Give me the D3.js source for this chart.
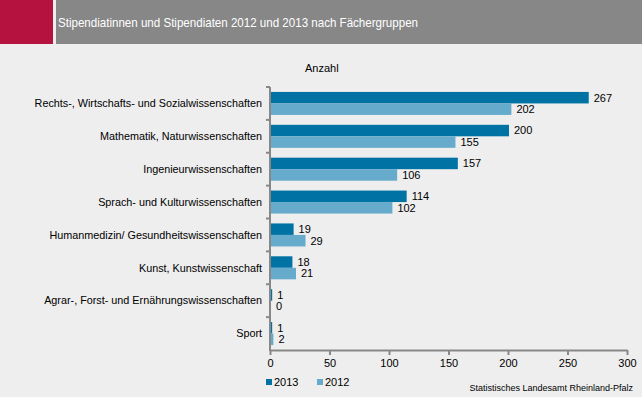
<!DOCTYPE html>
<html>
<head>
<meta charset="utf-8">
<script src="https://cdn.jsdelivr.net/npm/d3@7"></script>
<style>
  body { margin: 0; background: #eeeeee; }
  svg { display: block; font-family: "Liberation Sans", Arial, sans-serif; }
</style>
</head>
<body>
<div id="chart"></div>
<script>
const categories = [
  "Rechts-, Wirtschafts- und Sozialwissenschaften",
  "Mathematik, Naturwissenschaften",
  "Ingenieurwissenschaften",
  "Sprach- und Kulturwissenschaften",
  "Humanmedizin/ Gesundheitswissenschaften",
  "Kunst, Kunstwissenschaft",
  "Agrar-, Forst- und Ernährungswissenschaften",
  "Sport"
];
const values2013 = [267, 200, 157, 114, 19, 18, 1, 1];
const values2012 = [202, 155, 106, 102, 29, 21, 0, 2];
const seriesNames = ["2013", "2012"];
const xTicks = [0, 50, 100, 150, 200, 250, 300];

const width = 642, height = 397;
const colors = { "2013": "#0072a4", "2012": "#66abcb" };

const svg = d3.select("#chart").append("svg")
  .attr("width", width)
  .attr("height", height);

svg.append("rect").attr("width", width).attr("height", height).attr("fill", "#eeeeee");

// header band
svg.append("rect").attr("x", 0).attr("y", 0).attr("width", 53).attr("height", 44).attr("fill", "#b5123f");
svg.append("rect").attr("x", 56).attr("y", 0).attr("width", width - 56).attr("height", 44).attr("fill", "#878787");
svg.append("text")
  .attr("x", 58).attr("y", 27)
  .attr("fill", "#ffffff")
  .style("font-size", "13px")
  .attr("textLength", 360)
  .attr("lengthAdjust", "spacingAndGlyphs")
  .text("Stipendiatinnen und Stipendiaten 2012 und 2013 nach Fächergruppen");

const rows = categories.map((c, i) => ({ cat: c, v2013: values2013[i], v2012: values2012[i] }));

const x = d3.scaleLinear().domain([0, 300]).range([270, 627]);
const y = d3.scaleBand().domain(categories).range([87, 350]).paddingInner(0.3).paddingOuter(0.15);
const sub = d3.scaleBand().domain(seriesNames).range([0, y.bandwidth()]);

// bars
const g = svg.append("g");
const groups = g.selectAll("g.cat").data(rows).enter().append("g")
  .attr("transform", d => `translate(0,${y(d.cat)})`);

seriesNames.forEach(s => {
  const key = "v" + s;
  groups.append("rect")
    .attr("x", x(0) + 1)
    .attr("y", sub(s))
    .attr("width", d => Math.max(0, x(d[key]) - x(0)))
    .attr("height", sub.bandwidth())
    .attr("fill", colors[s]);
  groups.append("text")
    .attr("x", d => x(d[key]) + 6)
    .attr("y", sub(s) + sub.bandwidth() / 2)
    .attr("dy", "0.35em")
    .attr("fill", "#000")
    .style("font-size", "11px")
    .text(d => d[key]);
});

// y axis: line with ticks at category boundaries
const boundaries = d3.range(categories.length + 1).map(i => 87 + i * (263 / categories.length));
svg.append("line")
  .attr("x1", 270).attr("x2", 270)
  .attr("y1", 87).attr("y2", 351)
  .attr("stroke", "#888888").attr("stroke-width", 2);
svg.selectAll("line.ytick").data(boundaries.slice(0, -1)).enter().append("line")
  .attr("x1", 266).attr("x2", 270)
  .attr("y1", d => d).attr("y2", d => d)
  .attr("stroke", "#888888").attr("stroke-width", 2);

// category labels
svg.selectAll("text.cat").data(categories).enter().append("text")
  .attr("x", 262)
  .attr("y", (d, i) => (boundaries[i] + boundaries[i + 1]) / 2)
  .attr("dy", "0.35em")
  .attr("text-anchor", "end")
  .style("font-size", "10.8px")
  .attr("fill", "#000")
  .text(d => d);

// x axis
const xAxis = svg.append("g")
  .attr("transform", "translate(0,350)")
  .call(d3.axisBottom(x).tickValues(xTicks).tickSize(5).tickSizeOuter(0).tickPadding(4));
xAxis.select(".domain").attr("stroke", "#888888").attr("stroke-width", 2);
xAxis.selectAll(".tick line").attr("stroke", "#888888").attr("stroke-width", 2);
xAxis.selectAll(".tick text")
  .attr("fill", "#000")
  .style("font-size", "11px")
  .style("font-family", "'Liberation Sans', Arial, sans-serif");

// axis title
svg.append("text")
  .attr("x", 305).attr("y", 72)
  .style("font-size", "11px")
  .text("Anzahl");

// legend
const legend = svg.selectAll("g.legend").data(seriesNames).enter().append("g")
  .attr("transform", (d, i) => `translate(${266 + i * 51},379)`);
legend.append("rect").attr("width", 6).attr("height", 6).attr("fill", d => colors[d]);
legend.append("text")
  .attr("x", 8).attr("y", 3).attr("dy", "0.35em")
  .style("font-size", "11px")
  .text(d => d);

// source
svg.append("text")
  .attr("x", 633).attr("y", 391)
  .attr("text-anchor", "end")
  .style("font-size", "9px")
  .text("Statistisches Landesamt Rheinland-Pfalz");
</script>
</body>
</html>
